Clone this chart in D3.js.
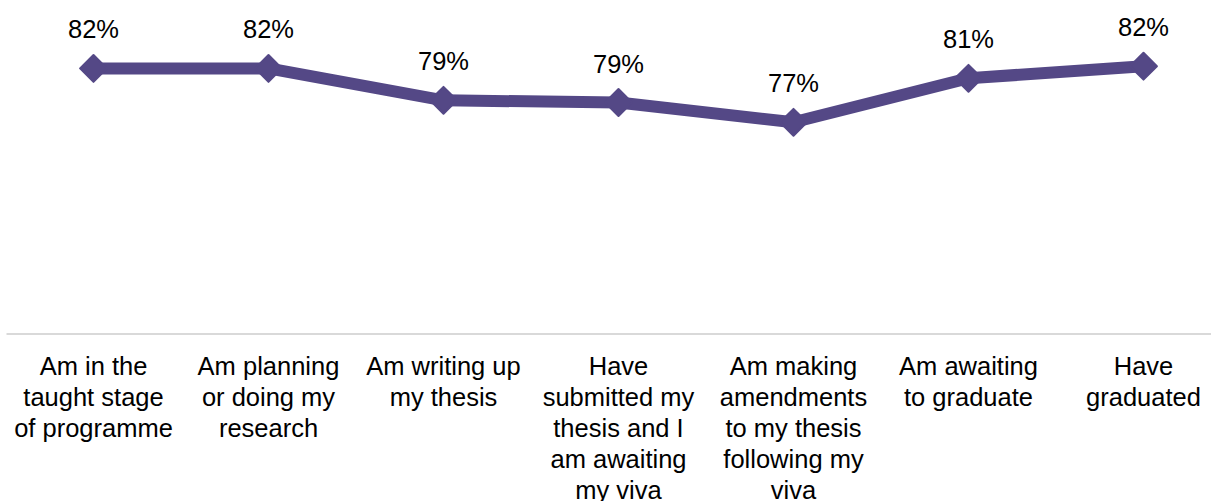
<!DOCTYPE html>
<html>
<head>
<meta charset="utf-8">
<script src="https://cdn.jsdelivr.net/npm/d3@7"></script>
<style>
  html, body { margin: 0; padding: 0; background: #ffffff; }
  svg { display: block; }
  text { font-family: "Liberation Sans", Arial, sans-serif; fill: #000000; }
</style>
</head>
<body>
<svg id="chart" width="1211" height="501"></svg>
<script>
// Stages of study (each label pre-split into its display lines)
const categories = [
  "Am in the taught stage of programme",
  "Am planning or doing my research",
  "Am writing up my thesis",
  "Have submitted my thesis and I am awaiting my viva",
  "Am making amendments to my thesis following my viva",
  "Am awaiting to graduate",
  "Have graduated"
];
const categoryLines = [
  ["Am in the", "taught stage", "of programme"],
  ["Am planning", "or doing my", "research"],
  ["Am writing up", "my thesis"],
  ["Have", "submitted my", "thesis and I", "am awaiting", "my viva"],
  ["Am making", "amendments", "to my thesis", "following my", "viva"],
  ["Am awaiting", "to graduate"],
  ["Have", "graduated"]
];
// Share of respondents for each stage
const values = [0.821, 0.821, 0.792, 0.790, 0.772, 0.812, 0.823];

const width = 1211, height = 501;
const lineColor = "#544886";
const svg = d3.select("#chart");

const x = d3.scaleBand()
  .domain(categories)
  .range([6, 1231])
  .paddingInner(0)
  .paddingOuter(0);

const y = d3.scaleLinear()
  .domain([0.58, 0.84])
  .range([333.5, 47.5]);

const cx = d => x(d) + x.bandwidth() / 2;

// Category axis: light grey baseline, no ticks
const axisG = svg.append("g")
  .attr("transform", `translate(0,${y.range()[0]})`)
  .call(d3.axisBottom(x).tickSize(0).tickFormat(""));
axisG.select(".domain")
  .attr("stroke", "#d9d9d9")
  .attr("stroke-width", 2);

// Wrapped category labels
const labelG = svg.append("g");
categories.forEach((c, i) => {
  const t = labelG.append("text")
    .attr("text-anchor", "middle")
    .attr("font-size", 25.5)
    .attr("x", cx(c))
    .attr("y", y.range()[0] + 41);
  categoryLines[i].forEach((ln, j) => {
    t.append("tspan")
      .attr("x", cx(c))
      .attr("dy", j === 0 ? 0 : 31)
      .text(ln);
  });
});

const data = categories.map((c, i) => ({ c, v: values[i] }));

// Series line
svg.append("path")
  .datum(data)
  .attr("fill", "none")
  .attr("stroke", lineColor)
  .attr("stroke-width", 12)
  .attr("stroke-linejoin", "round")
  .attr("d", d3.line().x(d => cx(d.c)).y(d => y(d.v)));

// Diamond markers
const diamond = d3.symbol().type(d3.symbolDiamond2).size(460);
svg.append("g")
  .selectAll("path")
  .data(data)
  .join("path")
  .attr("transform", d => `translate(${cx(d.c)},${y(d.v)})`)
  .attr("d", diamond)
  .attr("fill", lineColor)
  .attr("stroke", lineColor)
  .attr("stroke-width", 2)
  .attr("stroke-linejoin", "round");

// Value labels above markers
const pct = d3.format(".0%");
svg.append("g")
  .selectAll("text")
  .data(data)
  .join("text")
  .attr("text-anchor", "middle")
  .attr("font-size", 25.5)
  .attr("x", d => cx(d.c))
  .attr("y", d => y(d.v) - 30)
  .text(d => pct(d.v));
</script>
</body>
</html>
